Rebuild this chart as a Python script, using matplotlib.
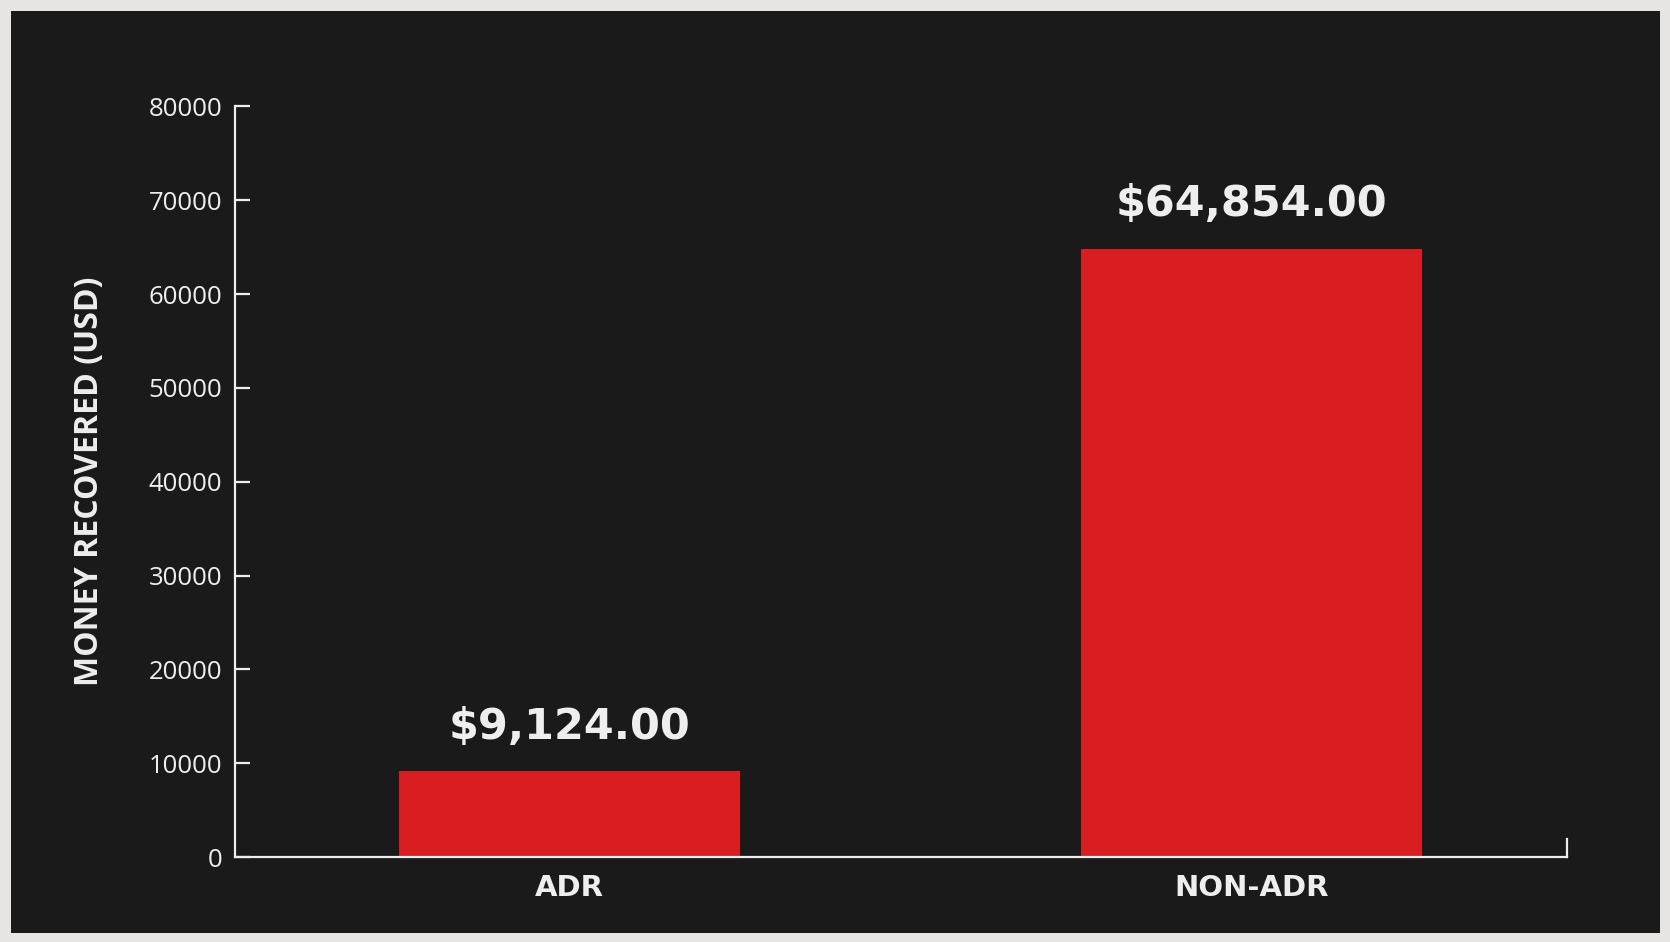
import matplotlib
matplotlib.use("Agg")
import matplotlib.pyplot as plt
from matplotlib.patches import Rectangle

categories = ["ADR", "NON-ADR"]
values = [9124, 64854]
value_labels = ["$9,124.00", "$64,854.00"]
yticks = [0, 10000, 20000, 30000, 40000, 50000, 60000, 70000, 80000]

BG = "#1a1a1a"
BORDER = "#e7e5e3"
BAR = "#d91e21"
FG = "#eeeeee"

plt.rcParams['font.family'] = ['Open Sans', 'DejaVu Sans']

fig = plt.figure(figsize=(16.7, 9.42), dpi=100, facecolor=BORDER)
fig.add_artist(Rectangle((10.6 / 1670, 9 / 942), (1659.5 - 10.6) / 1670, (933 - 10.6) / 942,
                         transform=fig.transFigure, facecolor=BG, edgecolor='none', zorder=0))

ax = fig.add_axes([0.1407, 0.0902, 0.9383 - 0.1407, 0.887 - 0.0902])
ax.set_facecolor(BG)
ax.patch.set_alpha(0)

x = list(range(len(categories)))
bars = ax.bar(x, values, width=0.5, color=BAR, zorder=2)

for xi, v, lab in zip(x, values, value_labels):
    ax.annotate(lab, (xi, v), xytext=(0, 17), textcoords='offset points',
                ha='center', va='bottom', color=FG, fontsize=31, fontweight='bold',
                family=['DejaVu Sans'])

ax.set_xlim(-0.49, 1.463)
ax.set_ylim(0, 80000)
ax.set_yticks(yticks)
ax.set_yticklabels([str(t) for t in yticks])
ax.set_xticks(x)
ax.set_xticklabels(categories, fontweight='bold', family=['DejaVu Sans'])

ax.spines['top'].set_visible(False)
for s in ['left', 'bottom', 'right']:
    ax.spines[s].set_color(FG)
    ax.spines[s].set_linewidth(1.6)
ax.spines['right'].set_bounds(0, 1900)

ax.tick_params(axis='y', direction='in', length=10.5, width=1.6, color=FG,
               labelcolor=FG, labelsize=18.5, pad=9)
ax.tick_params(axis='x', length=0, labelcolor=FG, labelsize=21, pad=12)
ax.tick_params(axis='y', which='both', right=False)

ax.set_ylabel("MONEY RECOVERED (USD)", color=FG, fontsize=23, fontweight='bold', labelpad=31)

fig.savefig("out.png", dpi=100, facecolor=BORDER)
